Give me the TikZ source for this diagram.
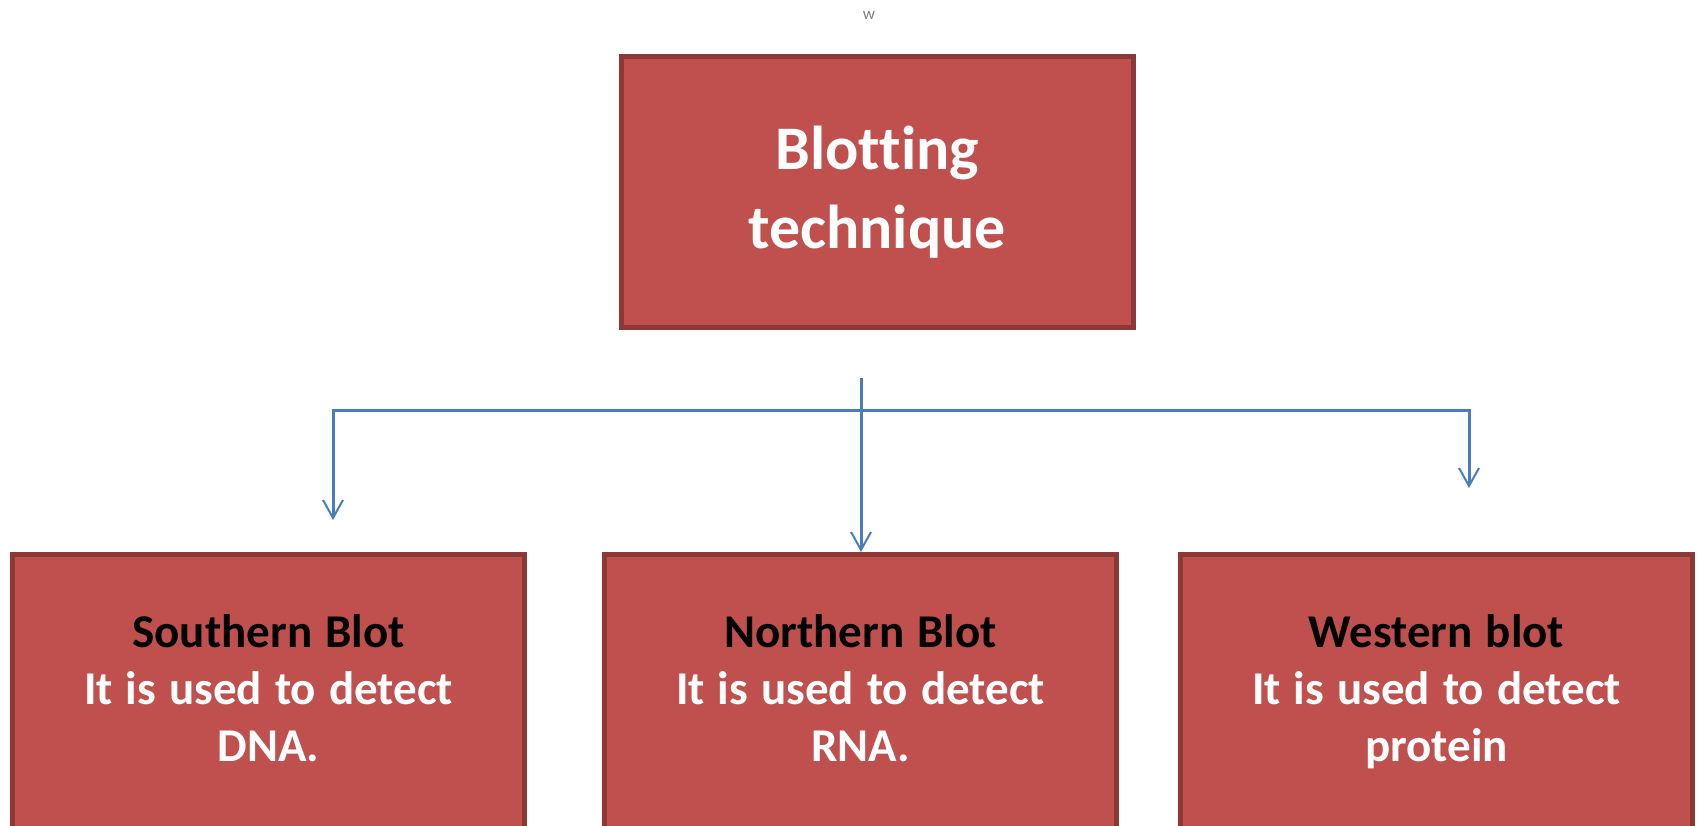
\documentclass[tikz,border=0pt]{standalone}
\usepackage{fontspec}
\setmainfont{Carlito}[Ligatures=NoCommon]
\usetikzlibrary{arrows.meta}

\definecolor{boxred}{HTML}{C0504D}
\definecolor{boxedge}{HTML}{8C3836}
\definecolor{linkblue}{HTML}{4A7EBB}
\definecolor{markgray}{HTML}{7F7F7F}

\begin{document}
\begin{tikzpicture}[x=1pt, y=-1pt,
    blotbox/.style={draw=boxedge, fill=boxred, line width=5pt, minimum width=512pt, inner sep=0pt},
    headtext/.style={font=\bfseries\fontsize{62}{79}\selectfont, text=white, align=center},
    blottext/.style={font=\bfseries\fontsize{47}{57}\selectfont, text=white, align=center, text width=500pt, anchor=base,
        execute at begin node={\spaceskip=13pt\relax}},
    link/.style={draw=linkblue, line width=3pt, -{Straight Barb[length=18pt, width=20pt, line width=2pt]}}]

    \useasboundingbox (0, 0) rectangle (1698, 825);

    %% Blotting techniques

    % Stray mark above
    \node [font=\fontsize{17}{20}\selectfont, text=markgray] (mark) at (869, 15) {w};

    % Top box
    \node [blotbox, minimum height=271pt, headtext] (blotting) at (877, 192) {Blotting\\technique};

    % Bottom boxes (they run off the page)
    \node [blotbox, minimum height=345pt] (south) at (268.5, 727) {};
    \node [blotbox, minimum height=345pt] (north) at (860.5, 727) {};
    \node [blotbox, minimum height=345pt] (west) at (1436.5, 727) {};

    % Box texts
    \node [blottext] (southtxt) at (268.5, 647) {{\color{black}Southern Blot}\\It is used to detect\\DNA.};
    \node [blottext] (northtxt) at (860.5, 647) {{\color{black}Northern Blot}\\It is used to detect\\RNA.};
    \node [blottext] (westtxt) at (1436.5, 647) {{\color{black}Western blot}\\It is used to detect\\protein};

    % Connectors
    \coordinate (trunk) at (861, 378);
    \coordinate (bus) at (861, 410);
    \coordinate (southend) at (333, 520);
    \coordinate (westend) at (1469, 488);
    \draw [link] (trunk) -- (trunk |- north.north);
    \draw [link] (bus) -| (southend);
    \draw [link] (bus) -| (westend);

\end{tikzpicture}
\end{document}
